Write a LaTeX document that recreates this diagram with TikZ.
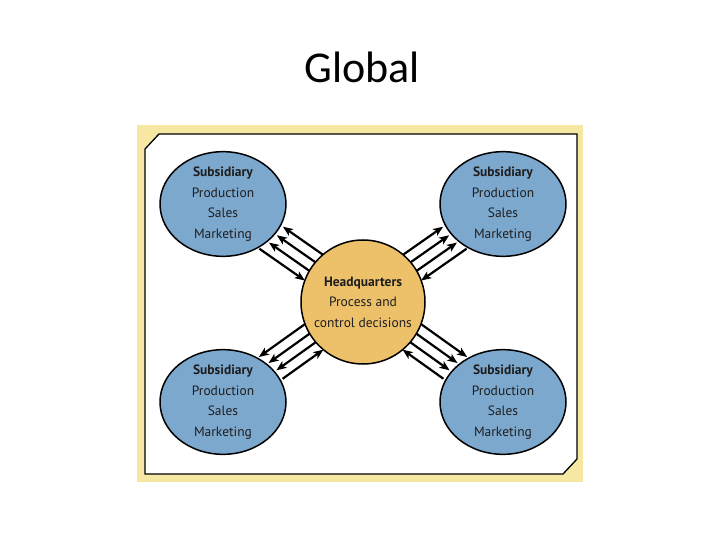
\documentclass[tikz,border=0pt]{standalone}
\usepackage{fontspec}
\setmainfont{Carlito}
\newfontfamily\boxfont{PT Sans}
\usetikzlibrary{shapes.geometric,arrows.meta,calc,intersections}
\definecolor{subblue}{RGB}{124,168,206}
\definecolor{hqorange}{RGB}{237,193,106}
\definecolor{framey}{RGB}{246,231,162}
\definecolor{txt}{RGB}{30,30,30}
\begin{document}
\begin{tikzpicture}[x=1pt,y=-1pt,
  sub/.style={ellipse, draw=black, line width=1.5pt, fill=subblue, text=txt,
    minimum width=126pt, minimum height=102pt, inner sep=0pt, align=center,
    font=\boxfont\fontsize{13.5pt}{20.5pt}\selectfont},
  hq/.style={circle, draw=black, line width=1.5pt, fill=hqorange, text=txt,
    minimum size=124pt, inner sep=0pt, align=center,
    font=\boxfont\fontsize{13.5pt}{20.5pt}\selectfont},
  flow/.style={line width=2.2pt, -{Stealth[length=10pt,width=8pt,inset=2.5pt]}},
]
\useasboundingbox (0,0) rectangle (720,540);
\node[anchor=base, font=\fontsize{44pt}{50pt}\selectfont] (title) at (362,83) {Global};
% frame
\fill[framey] (137,125) rectangle (583,482);
\draw[line width=1.3pt, fill=white] (145,149) -- (159,134) -- (577,134) -- (577,459) -- (563,474) -- (145,474) -- cycle;
% nodes
\node[sub] (s1) at (223,204) {\textbf{Subsidiary}\\Production\\Sales\\Marketing};
\node[sub] (s2) at (503,204) {\textbf{Subsidiary}\\Production\\Sales\\Marketing};
\node[sub] (s3) at (223,402) {\textbf{Subsidiary}\\Production\\Sales\\Marketing};
\node[sub] (s4) at (503,402) {\textbf{Subsidiary}\\Production\\Sales\\Marketing};
\node[hq] (hq) at (363,302) {\textbf{Headquarters}\\Process and\\control decisions};
% boundary paths
\path[name path=Es1] (223,204) ellipse [x radius=63pt, y radius=51pt];
\path[name path=Es2] (503,204) ellipse [x radius=63pt, y radius=51pt];
\path[name path=Es3] (223,402) ellipse [x radius=63pt, y radius=51pt];
\path[name path=Es4] (503,402) ellipse [x radius=63pt, y radius=51pt];
\path[name path=Ehq] (363,302) circle [radius=62pt];
% connectors
\foreach \s/\inw in {s1/-15.75, s2/15.75, s3/-15.75, s4/15.75} {
  \foreach \d in {-15.75,-5.25,5.25,15.75} {
    \path[name path=ln] ($(\s)!\d pt!90:(hq)$) -- ($(hq)!\d pt!-90:(\s)$);
    \path[name intersections={of=ln and E\s, by=pa}];
    \path[name intersections={of=ln and Ehq, by=pb}];
    \ifdim \d pt=\inw pt
      \draw[flow, shorten <=3pt] (pa) -- (pb);
    \else
      \draw[flow, shorten >=3pt] (pb) -- (pa);
    \fi
  }
}
\end{tikzpicture}
\end{document}
